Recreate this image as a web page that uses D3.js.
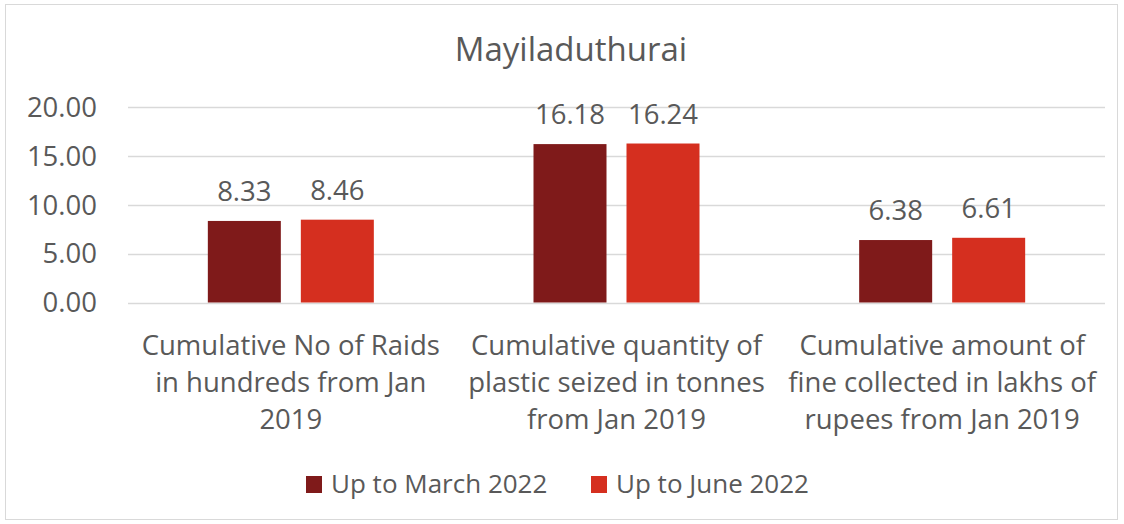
<!DOCTYPE html>
<html>
  <head>
    <meta charset="utf-8">
    <title>Mayiladuthurai</title>
    <script src="https://cdn.jsdelivr.net/npm/d3@7"></script>
    <style>
      body { margin: 0; background: #fff; }
      svg text { font-family: "Open Sans", "Noto Sans", sans-serif; fill: #595959; }
    </style>
  </head>
  <body>
    <svg></svg>
    <script>
      'use strict';

      // chart data
      let categories = [
        ["Cumulative No of Raids", "in hundreds from Jan", "2019"],
        ["Cumulative quantity of", "plastic seized in tonnes", "from Jan 2019"],
        ["Cumulative amount of", "fine collected in lakhs of", "rupees from Jan 2019"]
      ];
      let seriesNames = ["Up to March 2022", "Up to June 2022"];
      let marchValues = [8.33, 16.18, 6.38];
      let juneValues = [8.46, 16.24, 6.61];
      let yTicks = [0, 5, 10, 15, 20];
      let colors = ["#7F1A1A", "#D52F1F"];

      let w = 1124, h = 524;
      let svg = d3.select("svg").attr("width", w).attr("height", h);

      // outer frame
      svg.append("rect")
        .attr("x", 5.5).attr("y", 4.5)
        .attr("width", 1112).attr("height", 515)
        .attr("fill", "#fff").attr("stroke", "#D9D9D9");

      // title
      svg.append("text")
        .attr("x", 571).attr("y", 61)
        .attr("text-anchor", "middle")
        .style("font-size", "33px")
        .text("Mayiladuthurai");

      let y = d3.scaleLinear().domain([0, 20]).range([302.5, 106.7]);
      let x0 = d3.scaleBand().domain(d3.range(categories.length)).range([128, 1105]);
      let barW = 73, barGap = 20;

      // gridlines + tick labels
      let grid = svg.append("g");
      grid.selectAll("line").data(yTicks).enter().append("line")
        .attr("x1", 128).attr("x2", 1105)
        .attr("y1", d => Math.round(y(d)) + 0.5)
        .attr("y2", d => Math.round(y(d)) + 0.5)
        .attr("stroke", "#D9D9D9").attr("stroke-width", 1.5);
      grid.selectAll("text").data(yTicks).enter().append("text")
        .attr("x", 97).attr("y", d => y(d))
        .attr("dy", "0.36em")
        .attr("text-anchor", "end")
        .style("font-size", "27.5px")
        .text(d => d3.format(".2f")(d));

      // bars
      let series = [marchValues, juneValues];
      series.forEach(function (vals, s) {
        let xPos = function (i) {
          let c = x0(i) + x0.bandwidth() / 2;
          return s === 0 ? c - barGap / 2 - barW : c + barGap / 2;
        };
        let g = svg.append("g");
        g.selectAll("rect").data(vals).enter().append("rect")
          .attr("x", (d, i) => xPos(i))
          .attr("width", barW)
          .attr("y", d => y(d))
          .attr("height", d => y(0) - y(d))
          .attr("fill", colors[s]);
        g.selectAll("text").data(vals).enter().append("text")
          .attr("x", (d, i) => xPos(i) + barW / 2)
          .attr("y", d => y(d) - 20)
          .attr("text-anchor", "middle")
          .style("font-size", "27.5px")
          .text(d => d3.format(".2f")(d));
      });

      // category labels
      let cat = svg.append("g");
      categories.forEach(function (lines, i) {
        let t = cat.append("text")
          .attr("x", x0(i) + x0.bandwidth() / 2)
          .attr("y", 355)
          .attr("text-anchor", "middle")
          .style("font-size", "27.5px");
        lines.forEach(function (ln, j) {
          t.append("tspan")
            .attr("x", x0(i) + x0.bandwidth() / 2)
            .attr("dy", j === 0 ? 0 : 37)
            .text(ln);
        });
      });

      // legend
      let legendX = [306, 591];
      let legend = svg.append("g");
      seriesNames.forEach(function (name, i) {
        legend.append("rect")
          .attr("x", legendX[i]).attr("y", 476)
          .attr("width", 16).attr("height", 17)
          .attr("fill", colors[i]);
        legend.append("text")
          .attr("x", legendX[i] + 25).attr("y", 493)
          .style("font-size", "26px")
          .text(name);
      });
    </script>
  </body>
</html>
